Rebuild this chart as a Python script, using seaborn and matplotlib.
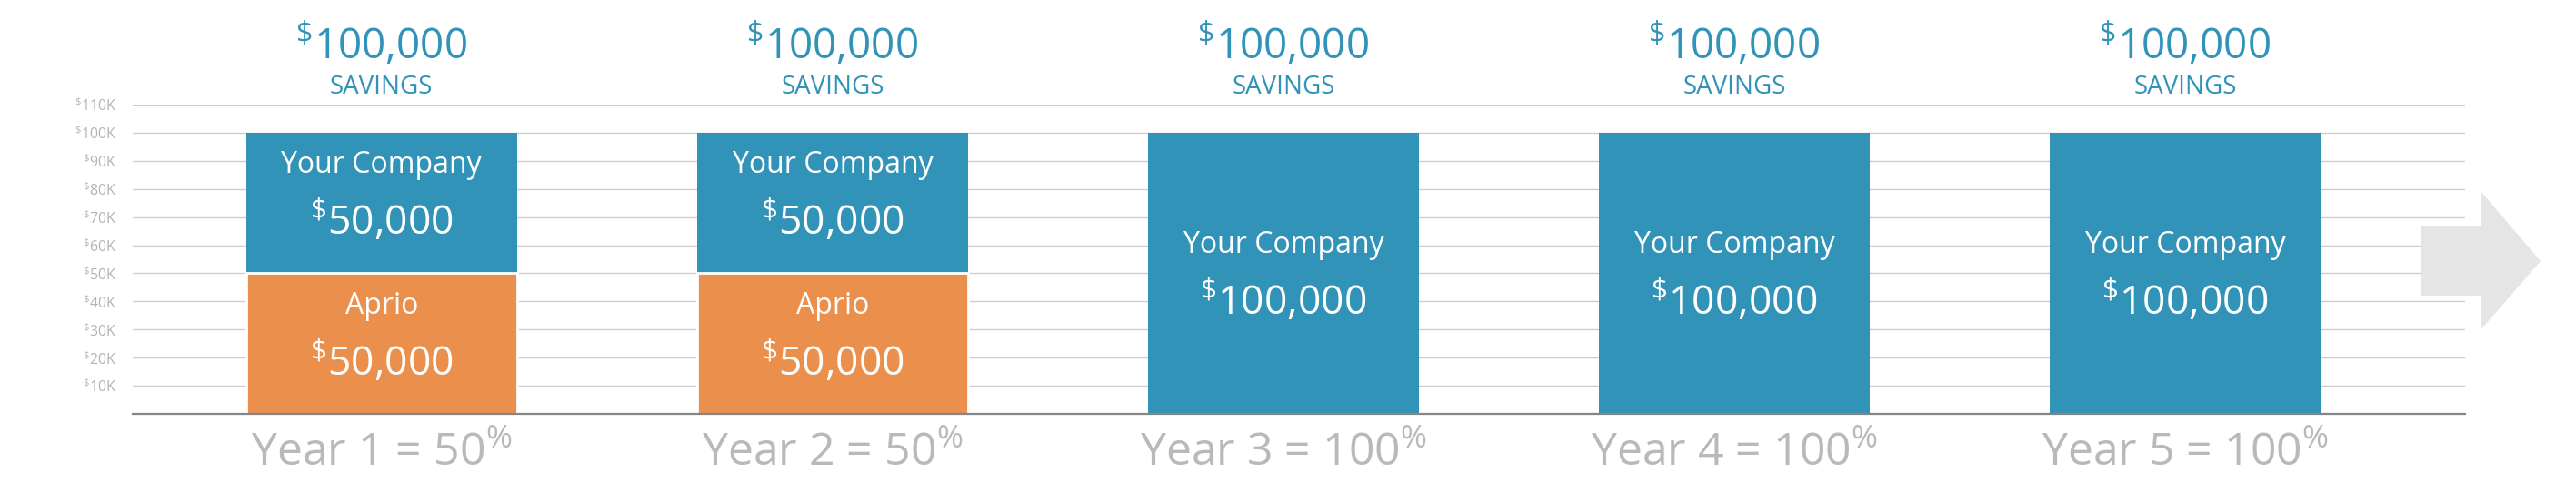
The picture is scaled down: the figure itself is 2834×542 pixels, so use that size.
import matplotlib
matplotlib.use('Agg')
import matplotlib.pyplot as plt
import seaborn as sns
import pandas as pd
from matplotlib.patches import Polygon

# chart values
years = ['Year 1', 'Year 2', 'Year 3', 'Year 4', 'Year 5']
pct = ['50', '50', '100', '100', '100']
company = [50000, 50000, 100000, 100000, 100000]
aprio = [50000, 50000, 0, 0, 0]
savings = [100000, 100000, 100000, 100000, 100000]
yticks = [10000, 20000, 30000, 40000, 50000, 60000, 70000, 80000, 90000, 100000, 110000]

blue = '#3293b8'
orange = '#ea8f4c'

sns.set_theme(style='white')
plt.rcParams['font.family'] = ['Open Sans', 'DejaVu Sans']
plt.rcParams['mathtext.fontset'] = 'custom'
plt.rcParams['mathtext.rm'] = 'Open Sans'
plt.rcParams['mathtext.it'] = 'Open Sans'
plt.rcParams['mathtext.bf'] = 'Open Sans'
plt.rcParams['mathtext.default'] = 'rm'

df = pd.DataFrame({'year': years, 'company': company, 'aprio': aprio})
df['total'] = df['company'] + df['aprio']

W, H = 2834, 542
fig = plt.figure(figsize=(W / 100, H / 100), dpi=100)
ax = fig.add_axes([146 / W, 87 / H, (2712 - 146) / W, 340 / H])

sns.barplot(data=df, x='year', y='total', order=years, color=blue,
            saturation=1, width=0.6, linewidth=0, ax=ax)
sns.barplot(data=df[df['aprio'] > 0], x='year', y='aprio', order=years,
            color=orange, saturation=1, width=0.6, edgecolor='white',
            linewidth=2, ax=ax)

ax.set_ylim(0, 110000)
ax.set_xlim(-0.552, 4.621)
ax.set_yticks(yticks)
ax.set_yticklabels([r'$^{\$}$' + f'{v // 1000}K' for v in yticks])
ax.set_xticks(range(len(years)))
ax.set_xticklabels([f'{y} = {p}' + r'$^{\%}$' for y, p in zip(years, pct)])
ax.set_xlabel('')
ax.set_ylabel('')

ax.grid(axis='y', color='#cccccc', linewidth=1.0)
ax.grid(axis='x', visible=False)
ax.set_axisbelow(True)
for s in ['left', 'right', 'top']:
    ax.spines[s].set_visible(False)
ax.spines['bottom'].set_color('#858585')
ax.spines['bottom'].set_linewidth(1.6)
ax.tick_params(axis='both', length=0)
ax.tick_params(axis='y', labelsize=11.5, labelcolor='#b4b4b4', pad=13)
ax.tick_params(axis='x', labelsize=36, labelcolor='#b9b9b9', pad=14)

px = 72 / 100  # pixels -> points

# labels inside bars
for i, (c, a) in enumerate(zip(company, aprio)):
    segs = [('Your Company', a, c)]
    if a:
        segs.append(('Aprio', 0, a))
    for name, bottom, h in segs:
        mid = bottom + h / 2
        up = 22 if h == savings[i] else 33
        ax.annotate(name, (i, mid), xytext=(0, up * px), textcoords='offset points',
                    ha='center', va='baseline', color='white', fontsize=23)
        ax.annotate(r'$^{\$}$' + f'{h:,}', (i, mid), xytext=(0, (up - 68) * px),
                    textcoords='offset points', ha='center', va='baseline',
                    color='white', fontsize=32)

# savings labels above the plot
for i, s in enumerate(savings):
    ax.annotate(r'$^{\$}$' + f'{s:,}', (i, 1), xycoords=('data', 'axes fraction'),
                xytext=(0, 50 * px), textcoords='offset points', ha='center',
                va='baseline', color=blue, fontsize=33, annotation_clip=False)
    ax.annotate('SAVINGS', (i, 1), xycoords=('data', 'axes fraction'),
                xytext=(0, 12 * px), textcoords='offset points', ha='center',
                va='baseline', color=blue, fontsize=20, annotation_clip=False)

# grey arrow on the right
arrow = [(2663, 249), (2729, 249), (2729, 210), (2795, 287),
         (2729, 363), (2729, 325), (2663, 325)]
fig.patches.append(Polygon([(x / W, 1 - y / H) for x, y in arrow], closed=True,
                           transform=fig.transFigure, facecolor='#e5e5e5',
                           edgecolor='none'))

fig.savefig('out.png', dpi=100)
